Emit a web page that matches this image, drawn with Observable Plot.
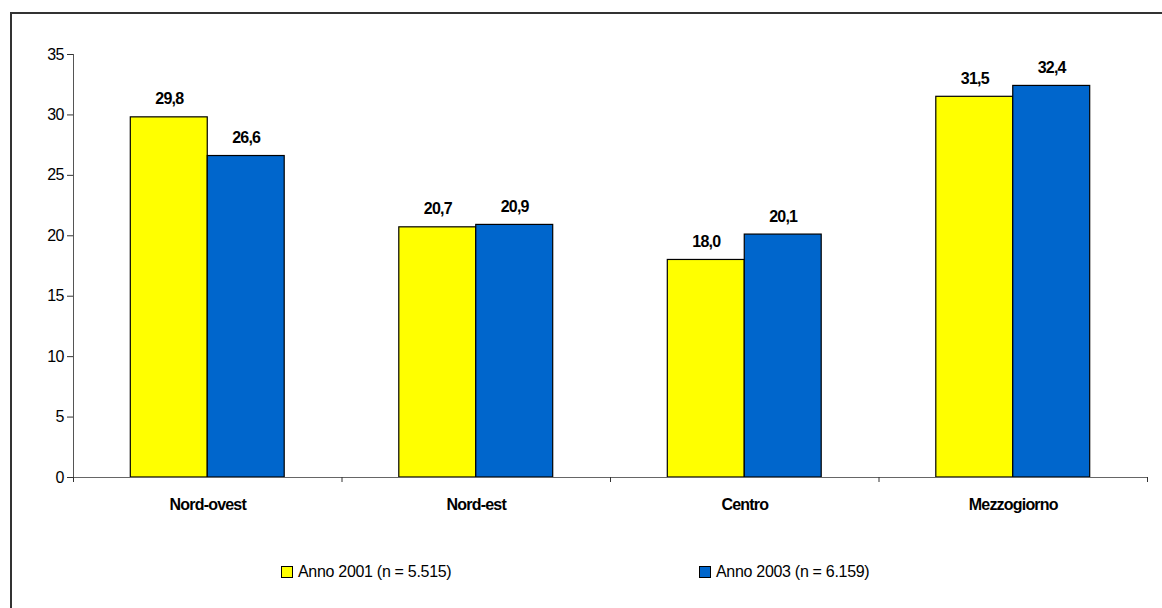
<!DOCTYPE html>
<html>
<head>
<meta charset="utf-8">
<script src="https://cdn.jsdelivr.net/npm/d3@7"></script>
<script src="https://cdn.jsdelivr.net/npm/@observablehq/plot@0.6"></script>
<style>
  html, body { margin: 0; padding: 0; background: #fff; }
  body { width: 1162px; height: 608px; overflow: hidden; position: relative; font-family: "Liberation Sans", Arial, sans-serif; }
  #box { position: absolute; left: 10px; top: 12px; width: 1200px; height: 700px; border: 2px solid #333; box-sizing: border-box; }
  #chart { position: absolute; left: 0; top: 0; }
  .legend-item { position: absolute; top: 563px; display: flex; align-items: center; font-size: 16px; letter-spacing: -0.3px; color: #000; }
  .swatch { width: 10px; height: 10px; border: 1.5px solid #000; margin-right: 5px; }
</style>
</head>
<body>
<div id="box"></div>
<div id="chart"></div>
<div id="legend"></div>
<script>
// Regions and survey shares (%)
const categories = ["Nord-ovest", "Nord-est", "Centro", "Mezzogiorno"];
const values2001 = [29.8, 20.7, 18.0, 31.5];
const values2003 = [26.6, 20.9, 20.1, 32.4];
const seriesNames = ["Anno 2001 (n = 5.515)", "Anno 2003 (n = 6.159)"];
const seriesColors = ["#FFFF00", "#0066CC"];
const yTicks = [0, 5, 10, 15, 20, 25, 30, 35];

// One row per bar; the two series sit side by side in each category slot
const rows = categories.flatMap((cat, i) => [
  {cat, i, s: 0, v: values2001[i]},
  {cat, i, s: 1, v: values2003[i]}
]);
const barW = 0.2866; // fraction of a category slot taken by one bar
const left = d => d.i + 0.5 + (d.s - 1) * barW;
const mid = d => left(d) + barW / 2;
const fmt = v => v.toFixed(1).replace(".", ",");

const chart = Plot.plot({
  width: 1162,
  height: 530,
  marginLeft: 73,
  marginRight: 15,
  marginTop: 54,
  marginBottom: 53,
  style: {fontFamily: "'Liberation Sans', Arial, sans-serif", fontSize: "16px", letterSpacing: "-0.8px", color: "#000", background: "transparent"},
  x: {domain: [0, 4]},
  y: {domain: [0, 35]},
  marks: [
    Plot.rect(rows, {
      x1: left,
      x2: d => left(d) + barW,
      y1: 0,
      y2: "v",
      fill: d => seriesColors[d.s],
      stroke: "#000",
      strokeWidth: 1.2
    }),
    Plot.ruleY([0], {stroke: "#666"}),
    Plot.ruleX([0], {y1: 0, y2: 35, stroke: "#555"}),
    Plot.axisY({ticks: yTicks, tickSize: 6, tickPadding: 4, label: null, stroke: "#333", fontSize: 16}),
    Plot.axisX({ticks: [0, 1, 2, 3, 4], tickSize: 5, tickFormat: () => "", label: null, stroke: "#333"}),
    Plot.axisX({
      ticks: categories.map((_, i) => i + 0.5),
      tickSize: 0,
      tickPadding: 21,
      tickFormat: v => categories[Math.floor(v)],
      label: null,
      fontWeight: "bold",
      fontSize: 16
    }),
    Plot.text(rows, {
      x: mid,
      y: "v",
      text: d => fmt(d.v),
      lineAnchor: "bottom",
      dy: -13,
      fontWeight: "bold",
      fontSize: 16
    })
  ]
});
document.getElementById("chart").appendChild(chart);

// Legend below the plot
const legend = document.getElementById("legend");
const legendLeft = [281, 699];
seriesNames.forEach((name, k) => {
  const item = document.createElement("div");
  item.className = "legend-item";
  item.style.left = legendLeft[k] + "px";
  const sw = document.createElement("span");
  sw.className = "swatch";
  sw.style.background = seriesColors[k];
  const label = document.createElement("span");
  label.textContent = name;
  item.appendChild(sw);
  item.appendChild(label);
  legend.appendChild(item);
});
</script>
</body>
</html>
